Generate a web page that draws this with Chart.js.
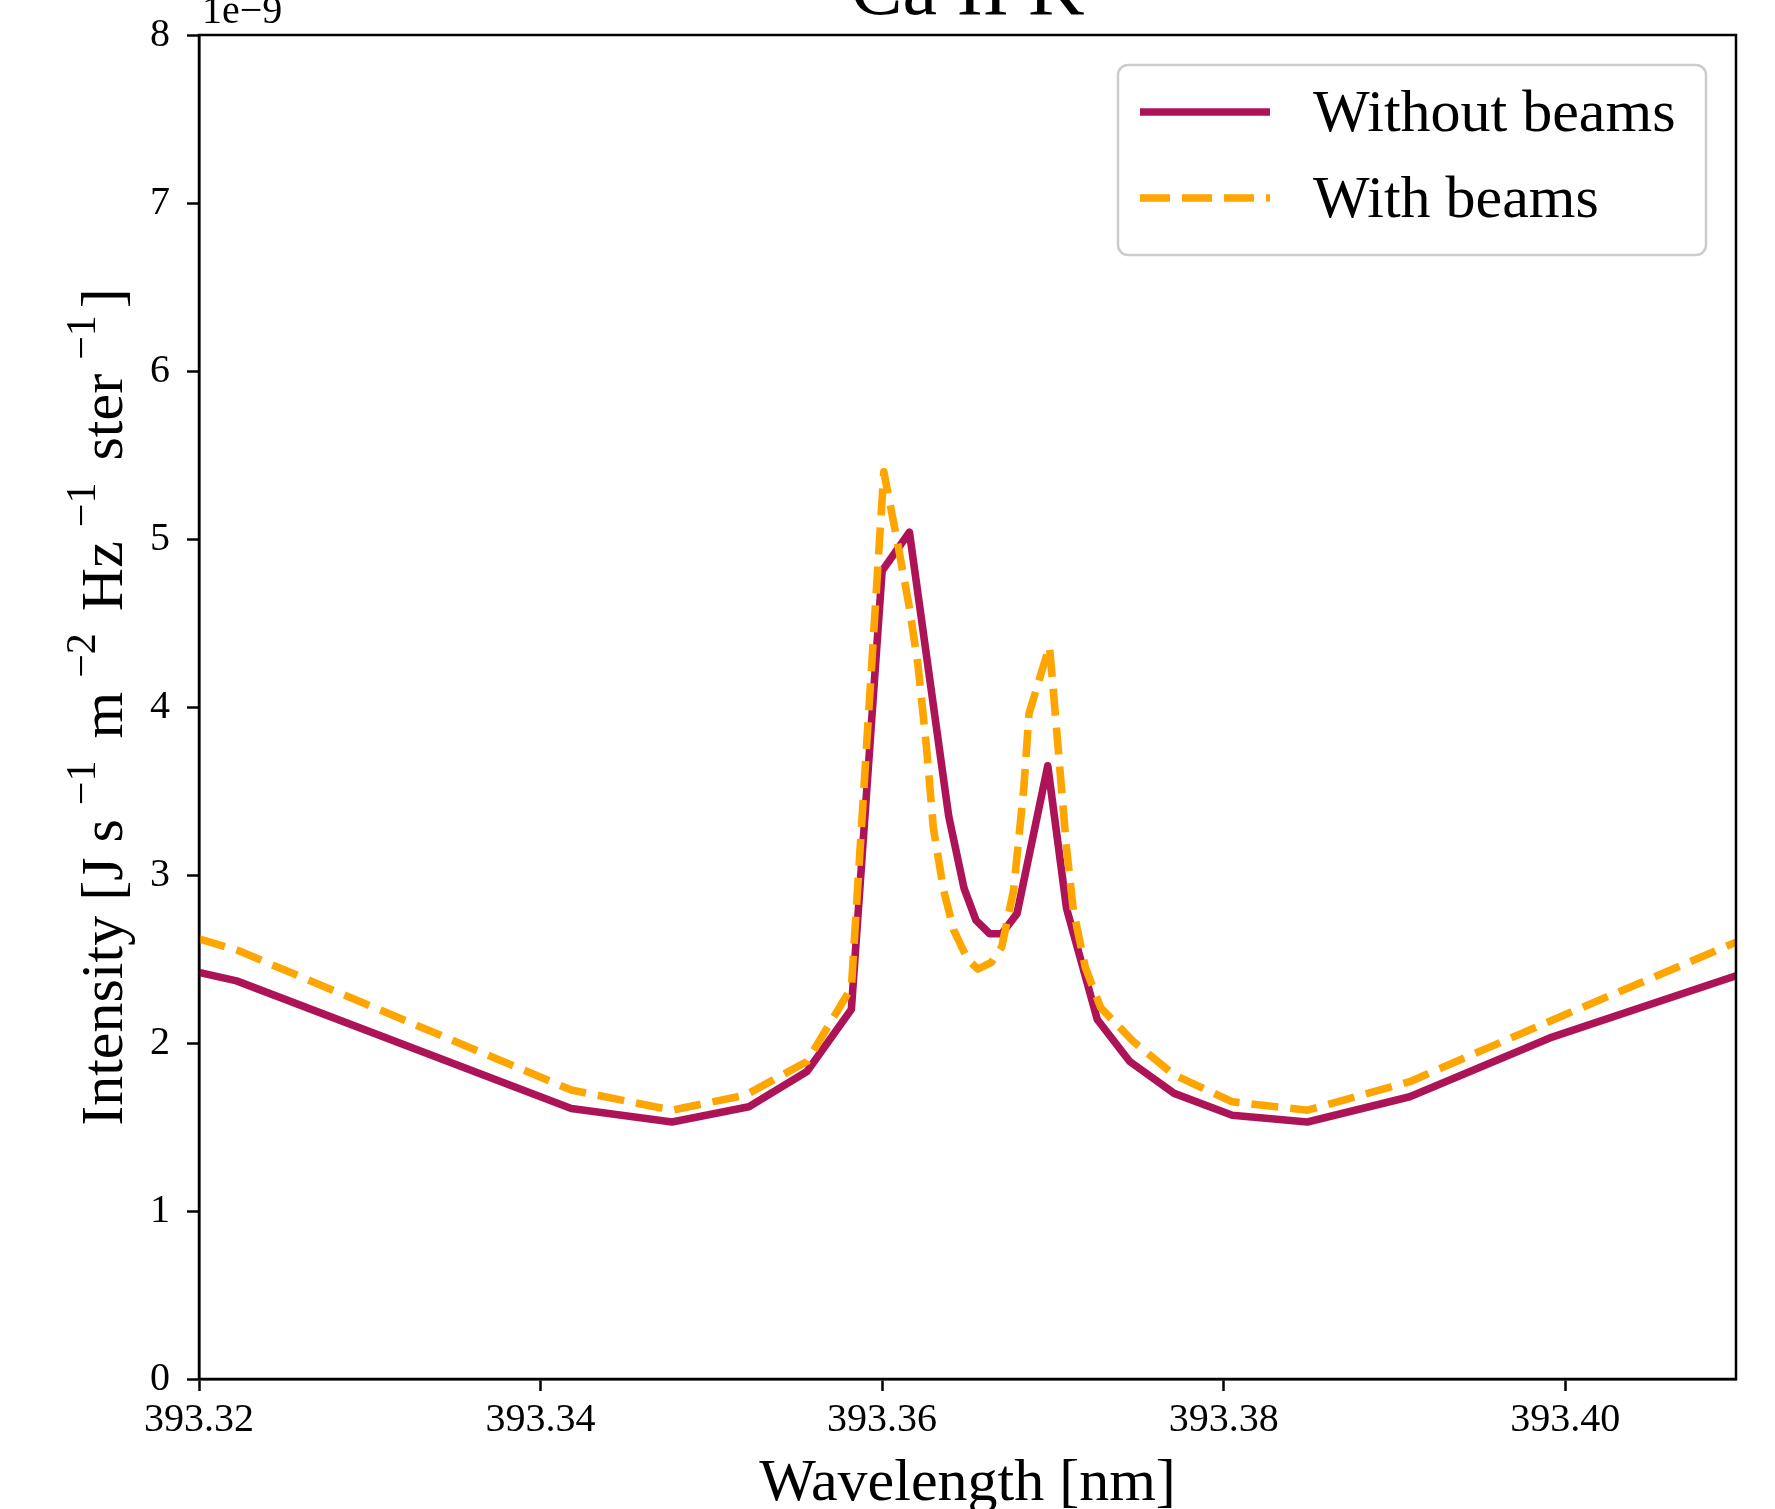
<!DOCTYPE html>
<html>
<head>
<meta charset="utf-8">
<title>Ca II K</title>
<script src="https://cdn.jsdelivr.net/npm/chart.js@4.4.1/dist/chart.umd.min.js"></script>
<style>
  html, body { margin: 0; padding: 0; background: #fff; }
  #chart { display: block; }
</style>
</head>
<body>
<canvas id="chart" width="1775" height="1509"></canvas>
<script>
const FONT = '"Liberation Serif", "DejaVu Serif", serif';

// intensities are in units of 1e-9 J s^-1 m^-2 Hz^-1 ster^-1
const WAVE_NO_BEAMS = [
  393.3200, 393.3222, 393.3418, 393.3477, 393.3522, 393.3556, 393.3582,
  393.3600, 393.3616, 393.3639, 393.3648, 393.3655, 393.3663, 393.3670,
  393.3679, 393.3697, 393.3708, 393.3726, 393.3745, 393.3771, 393.3805,
  393.3849, 393.3909, 393.3991, 393.4100,
];
const INT_NO_BEAMS = [
  2.42, 2.37, 1.61, 1.53, 1.62, 1.83, 2.20,
  4.81, 5.04, 3.35, 2.92, 2.73, 2.65, 2.65,
  2.77, 3.65, 2.80, 2.14, 1.89, 1.70, 1.57,
  1.53, 1.68, 2.03, 2.40,
];

const WAVE_BEAMS = [
  393.3200, 393.3223, 393.3418, 393.3477, 393.3520, 393.3556, 393.3582,
  393.3601, 393.3609, 393.3616, 393.3621, 393.3626, 393.3630, 393.3636,
  393.3642, 393.3650, 393.3656, 393.3664, 393.3670, 393.3677, 393.3683,
  393.3686, 393.3694, 393.3698, 393.3700, 393.3704, 393.3708, 393.3712,
  393.3719, 393.3728, 393.3747, 393.3771, 393.3805, 393.3849, 393.3909,
  393.3991, 393.4100,
];
const INT_BEAMS = [
  2.62, 2.55, 1.72, 1.60, 1.69, 1.89, 2.33,
  5.40, 4.98, 4.59, 4.25, 3.76, 3.28, 2.91,
  2.67, 2.50, 2.44, 2.48, 2.57, 2.91, 3.52,
  3.96, 4.23, 4.36, 4.13, 3.64, 3.16, 2.79,
  2.45, 2.21, 2.01, 1.81, 1.65, 1.60, 1.77,
  2.13, 2.60,
];

const X_TICKS = [393.32, 393.34, 393.36, 393.38, 393.40];
const Y_TICKS = [0, 1, 2, 3, 4, 5, 6, 7, 8];
const SERIES_LABELS = ["Without beams", "With beams"];
const TITLE = "Ca II K";
const X_TITLE = "Wavelength [nm]";
const OFFSET_TEXT = "1e\u22129";

const COLOR_NO_BEAMS = "#ad1457";
const COLOR_BEAMS = "#ffa500";
const LINE_WIDTH = 7.6;
const DASH = [27, 12];

function toPoints(xs, ys) {
  return xs.map((x, i) => ({ x, y: ys[i] }));
}

const whiteBackground = {
  id: "whiteBackground",
  beforeDraw(chart) {
    const { ctx, width, height } = chart;
    ctx.save();
    ctx.fillStyle = "#fff";
    ctx.fillRect(0, 0, width, height);
    ctx.restore();
  },
};

function drawYTitle(ctx, cx, baseX) {
  const parts = [
    { text: "Intensity [J s" },
    { text: "\u22121", sup: true },
    { text: " m" },
    { text: "\u22122", sup: true },
    { text: " Hz" },
    { text: "\u22121", sup: true },
    { text: " ster" },
    { text: "\u22121", sup: true },
    { text: "]" },
  ];
  const mainFont = `60px ${FONT}`;
  const supFont = `42px ${FONT}`;
  const gapBefore = 14;
  const gapAfter = 7;
  let total = 0;
  parts.forEach((p) => {
    ctx.font = p.sup ? supFont : mainFont;
    p.w = ctx.measureText(p.text).width + (p.sup ? gapBefore + gapAfter : 0);
    total += p.w;
  });
  ctx.save();
  ctx.translate(baseX, cx);
  ctx.rotate(-Math.PI / 2);
  ctx.textBaseline = "alphabetic";
  ctx.textAlign = "left";
  let pos = -total / 2;
  parts.forEach((p) => {
    ctx.font = p.sup ? supFont : mainFont;
    if (p.sup) {
      ctx.fillText(p.text, pos + gapBefore, -27);
    } else {
      ctx.fillText(p.text, pos, 0);
    }
    pos += p.w;
  });
  ctx.restore();
}

function drawLegend(ctx, area) {
  const left = area.right - 618;
  const top = area.top + 30;
  const w = 588;
  const h = 190;
  ctx.save();
  ctx.beginPath();
  ctx.roundRect(left, top, w, h, 10);
  ctx.fillStyle = "rgba(255,255,255,0.8)";
  ctx.fill();
  ctx.lineWidth = 2.5;
  ctx.strokeStyle = "#cccccc";
  ctx.stroke();

  const rows = [
    { label: SERIES_LABELS[0], color: COLOR_NO_BEAMS, dash: [] },
    { label: SERIES_LABELS[1], color: COLOR_BEAMS, dash: [30, 12] },
  ];
  rows.forEach((row, i) => {
    const y = top + 47 + i * 86;
    ctx.beginPath();
    ctx.setLineDash(row.dash);
    ctx.lineCap = "butt";
    ctx.lineWidth = LINE_WIDTH;
    ctx.strokeStyle = row.color;
    ctx.moveTo(left + 22, y);
    ctx.lineTo(left + 152, y);
    ctx.stroke();
    ctx.setLineDash([]);
    ctx.fillStyle = "#000";
    ctx.font = `60px ${FONT}`;
    ctx.textAlign = "left";
    ctx.textBaseline = "alphabetic";
    ctx.fillText(row.label, left + 195, y + 19);
  });
  ctx.restore();
}

const decorations = {
  id: "decorations",
  afterDraw(chart) {
    const { ctx, chartArea: area } = chart;
    const midX = (area.left + area.right) / 2;
    const midY = (area.top + area.bottom) / 2;

    ctx.save();
    ctx.strokeStyle = "#000";
    ctx.lineWidth = 2.5;
    ctx.strokeRect(area.left, area.top, area.right - area.left, area.bottom - area.top);

    ctx.fillStyle = "#000";
    ctx.textAlign = "center";
    ctx.textBaseline = "alphabetic";
    ctx.font = `78px ${FONT}`;
    ctx.fillText(TITLE, midX, area.top - 21);

    ctx.font = `60px ${FONT}`;
    ctx.fillText(X_TITLE, midX, 1500);

    ctx.textAlign = "left";
    ctx.font = `40px ${FONT}`;
    ctx.fillText(OFFSET_TEXT, area.left + 3, area.top - 12);
    ctx.restore();

    drawYTitle(ctx, midY, 122);
    drawLegend(ctx, area);
  },
};

const canvas = document.getElementById("chart");
const chart = new Chart(canvas.getContext("2d"), {
  type: "line",
  data: {
    datasets: [
      {
        label: SERIES_LABELS[0],
        data: toPoints(WAVE_NO_BEAMS, INT_NO_BEAMS),
        borderColor: COLOR_NO_BEAMS,
        borderWidth: LINE_WIDTH,
        borderJoinStyle: "round",
        borderCapStyle: "butt",
        pointRadius: 0,
        tension: 0,
        fill: false,
        order: 1,
      },
      {
        label: SERIES_LABELS[1],
        data: toPoints(WAVE_BEAMS, INT_BEAMS),
        borderColor: COLOR_BEAMS,
        borderWidth: LINE_WIDTH,
        borderDash: DASH,
        borderJoinStyle: "round",
        borderCapStyle: "butt",
        pointRadius: 0,
        tension: 0,
        fill: false,
        order: 0,
      },
    ],
  },
  options: {
    responsive: false,
    animation: false,
    devicePixelRatio: 1,
    layout: { padding: { top: 35, right: 39, left: 0, bottom: 0 } },
    plugins: {
      legend: { display: false },
      tooltip: { enabled: false },
    },
    scales: {
      x: {
        type: "linear",
        min: 393.32,
        max: 393.41,
        afterFit: (scale) => {
          scale.height = 130;
          scale.paddingLeft = 0;
          scale.paddingRight = 0;
        },
        afterBuildTicks: (scale) => { scale.ticks = X_TICKS.map((value) => ({ value })); },
        grid: { drawOnChartArea: false, tickLength: 12, tickWidth: 2.5, tickColor: "#000" },
        border: { display: true, color: "#000", width: 2.5 },
        ticks: {
          padding: 5,
          color: "#000",
          font: { family: FONT, size: 40 },
          maxRotation: 0,
          autoSkip: false,
          callback: (value) => Number(value).toFixed(2),
        },
      },
      y: {
        type: "linear",
        min: 0,
        max: 8,
        afterFit: (scale) => {
          scale.width = 199;
          scale.paddingTop = 0;
          scale.paddingBottom = 0;
        },
        afterBuildTicks: (scale) => { scale.ticks = Y_TICKS.map((value) => ({ value })); },
        grid: { drawOnChartArea: false, tickLength: 12, tickWidth: 2.5, tickColor: "#000" },
        border: { display: true, color: "#000", width: 2.5 },
        ticks: {
          padding: 17,
          color: "#000",
          font: { family: FONT, size: 40 },
          autoSkip: false,
          callback: (value) => String(value),
        },
      },
    },
  },
  plugins: [whiteBackground, decorations],
});
</script>
</body>
</html>
